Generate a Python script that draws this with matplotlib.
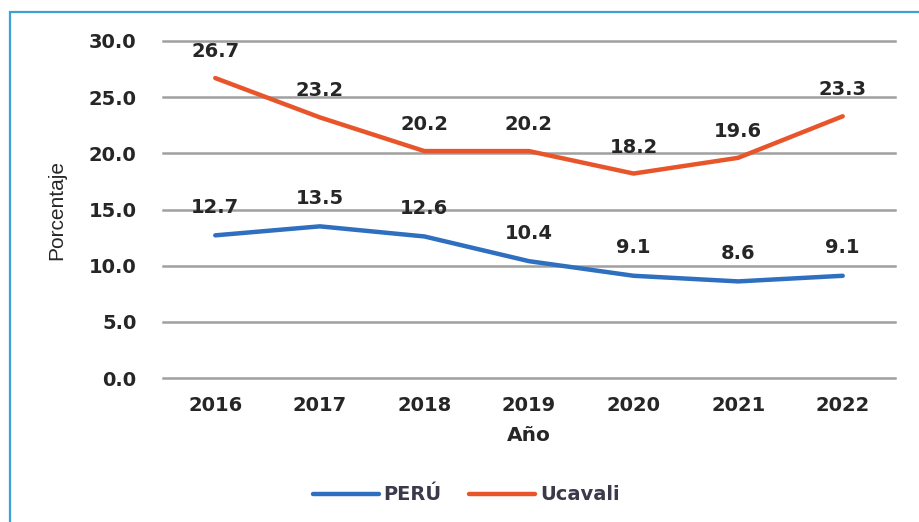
import matplotlib
matplotlib.use('Agg')
from matplotlib import pyplot as plt
from matplotlib.patches import Rectangle

# Data
years = ['2016', '2017', '2018', '2019', '2020', '2021', '2022']
peru = [12.7, 13.5, 12.6, 10.4, 9.1, 8.6, 9.1]
ucavali = [26.7, 23.2, 20.2, 20.2, 18.2, 19.6, 23.3]
yticks = [0, 5, 10, 15, 20, 25, 30]

col_peru = '#2E6FC0'
col_uca = '#E8552A'
txt_col = '#262626'

fig = plt.figure(figsize=(9.19, 5.22), dpi=100)

# blue frame around the figure
fig.patches.append(Rectangle((10/919, -0.05), 1.05, 1.05 - 12/522,
                             transform=fig.transFigure, fill=False,
                             edgecolor='#3FA0D8', linewidth=1.6))

ax = fig.add_axes([163/919, 1-378/522, (895-163)/919, (378-41)/522])
x = list(range(len(years)))

ax.plot(x, peru, color=col_peru, linewidth=3.2, solid_capstyle='round', label='PERÚ')
ax.plot(x, ucavali, color=col_uca, linewidth=3.2, solid_capstyle='round', label='Ucavali')

for i in x:
    ax.annotate(f'{peru[i]:.1f}', (i, peru[i]), xytext=(0, 20), textcoords='offset points',
                ha='center', va='center', fontsize=14, fontweight='bold', color=txt_col)
    ax.annotate(f'{ucavali[i]:.1f}', (i, ucavali[i]), xytext=(0, 19), textcoords='offset points',
                ha='center', va='center', fontsize=14, fontweight='bold', color=txt_col)

ax.set_xlim(-0.5, len(years) - 0.5)
ax.set_ylim(0, 30)
ax.set_yticks(yticks)
ax.set_yticklabels([f'{v:.1f}' for v in yticks])
ax.set_xticks(x)
ax.set_xticklabels(years)
ax.grid(axis='y', color='#A0A0A0', linewidth=1.8)
for g in ax.get_ygridlines():
    g.set_clip_on(False)
ax.set_axisbelow(True)
for s in ax.spines.values():
    s.set_visible(False)
ax.tick_params(axis='y', length=0, pad=19, labelsize=14, labelcolor=txt_col)
ax.tick_params(axis='x', length=0, pad=13, labelsize=14, labelcolor=txt_col)
for lab in ax.get_xticklabels() + ax.get_yticklabels():
    lab.set_fontweight('bold')

ax.set_xlabel('Año', fontsize=14.5, fontweight='bold', color=txt_col, labelpad=8)
ax.set_ylabel('Porcentaje', fontsize=15, color=txt_col, labelpad=16,
              family='Liberation Sans')

leg = fig.legend(loc='center', bbox_to_anchor=(466/919, 1-495/522), ncol=2, frameon=False,
                 handlelength=3.4, columnspacing=1.4, handletextpad=0.25,
                 prop={'size': 14, 'weight': 'bold'})
for t in leg.get_texts():
    t.set_color('#3A3A4A')

fig.savefig('out.png', dpi=100)
